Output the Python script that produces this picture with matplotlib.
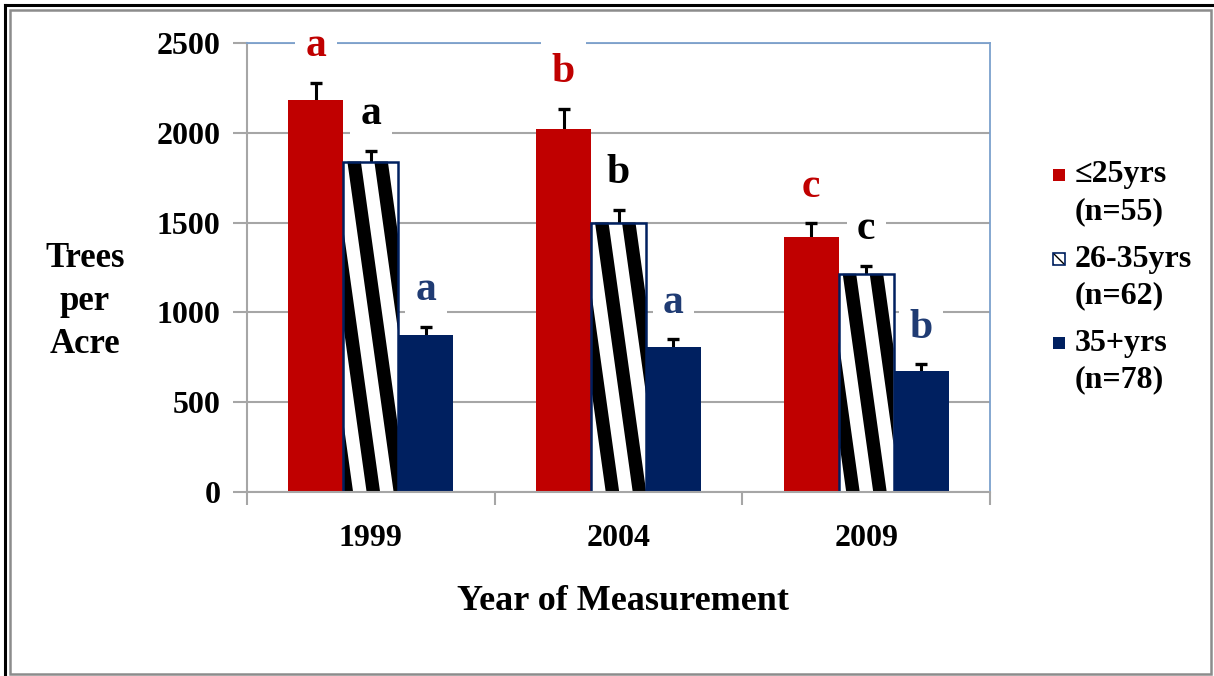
import numpy as np
import matplotlib
matplotlib.use("Agg")
import matplotlib.pyplot as plt
from matplotlib.patches import Rectangle, Polygon
from matplotlib.lines import Line2D

plt.rcParams['font.family'] = ['Liberation Serif', 'DejaVu Serif']
plt.rcParams['font.weight'] = 'bold'

# data
years = ["1999", "2004", "2009"]
series_names = ["\u226425yrs\n(n=55)", "26-35yrs\n(n=62)", "35+yrs\n(n=78)"]
young = [2180, 2020, 1420]
mid = [1840, 1500, 1215]
old = [875, 805, 675]
young_err = [100, 115, 75]
mid_err = [60, 70, 45]
old_err = [45, 45, 35]
young_letters = ["a", "b", "c"]
mid_letters = ["a", "b", "c"]
old_letters = ["a", "a", "b"]

RED = "#C00000"
NAVY = "#002060"
NAVY_TXT = "#1F3B73"
GRID = "#A6A6A6"
BLUE_EDGE = "#7BA0CD"

W, H = 1214, 676
fig = plt.figure(figsize=(W / 100, H / 100), dpi=100)
ax = fig.add_axes([247 / W, 1 - 492 / H, (990 - 247) / W, (492 - 43) / H])

x = np.arange(len(years))
bw = 0.222
offsets = [-bw, 0, bw]

ax.set_ylim(0, 2500)
ax.set_xlim(-0.5, len(years) - 0.5)

# grid
ax.set_yticks([0, 500, 1000, 1500, 2000, 2500])
ax.yaxis.grid(True, color=GRID, lw=1.5)
ax.set_axisbelow(True)

# error bars sit behind the bars so only the upper half shows
ekw = dict(fmt="none", ecolor="black", elinewidth=2.2, capsize=4.5, capthick=2.4, zorder=1.5)
ax.errorbar(x + offsets[0], young, yerr=young_err, **ekw)
ax.errorbar(x + offsets[1], mid, yerr=mid_err, **ekw)
ax.errorbar(x + offsets[2], old, yerr=old_err, **ekw)

ax.bar(x + offsets[0], young, bw, color=RED, zorder=2)
mid_bars = ax.bar(x + offsets[1], mid, bw, color="white", zorder=2)
ax.bar(x + offsets[2], old, bw, color=NAVY, zorder=2)


def clip_x(pts, xmin, xmax):
    # clip a convex polygon to xmin <= x <= xmax
    for bound, keep in [(xmin, lambda p: p[0] >= xmin), (xmax, lambda p: p[0] <= xmax)]:
        out = []
        n = len(pts)
        for i in range(n):
            a, b = pts[i], pts[(i + 1) % n]
            ka, kb = keep(a), keep(b)
            if ka:
                out.append(a)
            if ka != kb:
                t = (bound - a[0]) / (b[0] - a[0])
                out.append((bound, a[1] + t * (b[1] - a[1])))
        pts = out
        if not pts:
            break
    return pts


# striped fill for the middle series (steep diagonal stripes)
px_per_x = (990 - 247) / 3.0
px_per_y = (492 - 43) / 2500.0
period = 27 / px_per_x
stripe_w = 13.5 / px_per_x
slope = 0.14 * px_per_y / px_per_x
for b in mid_bars:
    x0 = b.get_x()
    x1 = x0 + b.get_width()
    top = b.get_height()
    shift = slope * top
    for k in range(-8, 8):
        sx = x0 + 4 / px_per_x + k * period
        quad = [(sx + shift, 0), (sx + stripe_w + shift, 0),
                (sx + stripe_w, top), (sx, top)]
        pts = clip_x(quad, x0, x1)
        if len(pts) >= 3:
            ax.add_patch(Polygon(pts, closed=True, facecolor="black",
                                 edgecolor="none", zorder=2.1))
ax.bar(x + offsets[1], mid, bw, facecolor="none", edgecolor=NAVY, lw=1.8, zorder=2.2)

# significance letters
for vals, errs, letters, col, off in [(young, young_err, young_letters, RED, offsets[0]),
                                      (mid, mid_err, mid_letters, "black", offsets[1]),
                                      (old, old_err, old_letters, NAVY_TXT, offsets[2])]:
    for i in range(len(years)):
        ax.text(x[i] + off, vals[i] + errs[i] + 205, letters[i], color=col,
                fontsize=30, fontweight="bold", ha="center", va="center", zorder=5,
                clip_on=False,
                bbox=dict(boxstyle="square,pad=0.25", fc="white", ec="none"))

# spines and ticks
for s in ["left", "bottom"]:
    ax.spines[s].set_color(GRID)
    ax.spines[s].set_linewidth(1.5)
for s in ["top", "right"]:
    ax.spines[s].set_color(BLUE_EDGE)
    ax.spines[s].set_linewidth(1.3)

ax.tick_params(axis="y", direction="out", length=10, width=1.5, color=GRID,
               labelsize=23, pad=9)
ax.set_xticks(np.arange(len(years) + 1) - 0.5, minor=False)
ax.set_xticklabels([])
ax.set_xticks(x, minor=True)
ax.set_xticklabels(years, minor=True)
ax.tick_params(axis="x", which="major", direction="out", length=9, width=1.5, color=GRID)
ax.tick_params(axis="x", which="minor", length=0, labelsize=23, pad=23)
for t in ax.get_yticklabels() + ax.get_xticklabels(minor=True):
    t.set_fontweight("bold")

fig.text(623 / W, 1 - 601 / H, "Year of Measurement",
         fontsize=26, fontweight="bold", ha="center", va="center")
fig.text(85 / W, 1 - 302 / H, "Trees\nper\nAcre", fontsize=25, fontweight="bold",
         ha="center", va="center", linespacing=1.4)

# legend drawn by hand so the marker sits on the first line of each label
leg_y = [175, 259, 343]
for j, name in enumerate(series_names):
    yc = leg_y[j]
    if j == 1:
        fig.add_artist(Rectangle((1053 / W, 1 - (yc + 6) / H), 12 / W, 12 / H,
                                 transform=fig.transFigure, facecolor="white",
                                 edgecolor="black", hatch="\\\\\\", lw=0))
        fig.add_artist(Rectangle((1053 / W, 1 - (yc + 6) / H), 12 / W, 12 / H,
                                 transform=fig.transFigure, facecolor="none",
                                 edgecolor=NAVY, lw=1.2))
    else:
        col = RED if j == 0 else NAVY
        fig.add_artist(Rectangle((1053 / W, 1 - (yc + 6) / H), 12 / W, 12 / H,
                                 transform=fig.transFigure, facecolor=col,
                                 edgecolor="none"))
    first, second = name.split("\n")
    fig.text(1075 / W, 1 - yc / H, first, fontsize=23, fontweight="bold",
             ha="left", va="center")
    fig.text(1075 / W, 1 - (yc + 37) / H, second, fontsize=23, fontweight="bold",
             ha="left", va="center")

# outer frame
fig.add_artist(Line2D([5 / W, 5 / W], [0, 1 - 5 / H], transform=fig.transFigure,
                      color="black", lw=2.2))
fig.add_artist(Line2D([5 / W, 1], [1 - 5 / H, 1 - 5 / H], transform=fig.transFigure,
                      color="black", lw=2.2))
fig.add_artist(Rectangle((10 / W, 2 / H), 1201 / W, 1 - 12 / H,
                         transform=fig.transFigure, facecolor="none",
                         edgecolor="#8C8C8C", lw=1.8))

fig.savefig("out.png", dpi=100)
